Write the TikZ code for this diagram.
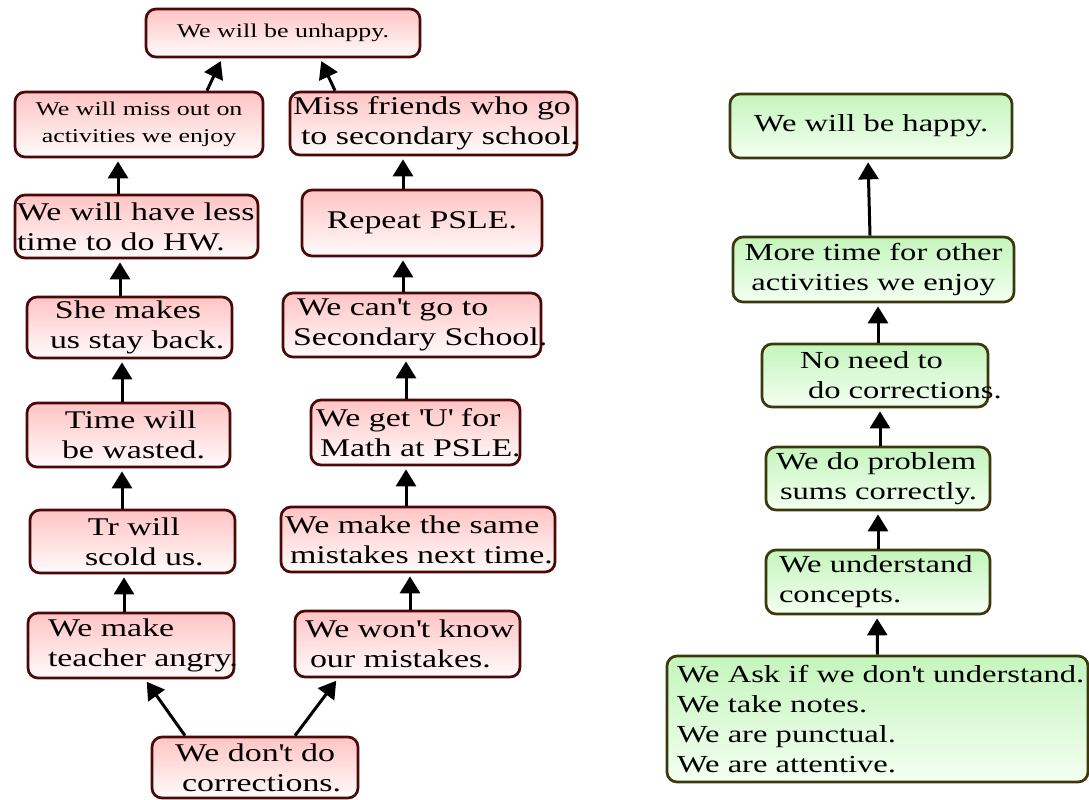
\documentclass[tikz,border=0pt]{standalone}
\usepackage{fontspec}
\setmainfont{Liberation Serif}[FakeStretch=1.33]
\usetikzlibrary{arrows.meta}
\definecolor{redtop}{HTML}{FFC4C4}
\definecolor{redbot}{HTML}{FFFBFB}
\definecolor{redline}{HTML}{4A0808}
\definecolor{greentop}{HTML}{C4F5BC}
\definecolor{greenbot}{HTML}{F4FFF2}
\definecolor{greenline}{HTML}{3A380C}
\newcommand\tline[2]{\hspace*{#1pt}\makebox[0pt][l]{#2}}
\newcommand\sq{\textquotesingle}
\begin{document}
\begin{tikzpicture}[x=1pt,y=-1pt,
  box/.style={line width=2.7pt, rounded corners=10pt, inner sep=0pt, align=left},
  rbox/.style={box, draw=redline, top color=redtop, bottom color=redbot, font=\fontsize{25.5}{30}\selectfont},
  gbox/.style={box, draw=greenline, top color=greentop, bottom color=greenbot, font=\fontsize{24.5}{30}\selectfont},
  smallfont/.style={font=\fontsize{19.5}{27}\selectfont},
  arr/.style={line width=3pt, -{Triangle[length=17pt,width=20pt]}, shorten >=3pt}
]
\useasboundingbox (0,0) rectangle (1089,800);

% left chain (red)
\node[rbox, smallfont, align=center, text width=274pt, minimum height=48pt] (L1) at (283,33) {We will be unhappy.};
\node[rbox, smallfont, align=center, text width=248pt, minimum height=65pt] (L2) at (139,124.5) {We will miss out on\\activities we enjoy};
\node[rbox, text width=287pt, minimum height=63pt] (L3) at (433.5,123.5) {\tline{3}{Miss friends who go}\\\tline{11}{to secondary school.}};
\node[rbox, text width=243pt, minimum height=63pt] (L4) at (136.5,226.5) {\tline{2}{We will have less}\\\tline{2}{time to do HW.}};
\node[rbox, align=center, text width=240pt, minimum height=66pt] (L5) at (422,223) {Repeat PSLE.};
\node[rbox, text width=205pt, minimum height=61pt] (L6) at (129.5,327.5) {\tline{28}{She makes}\\\tline{23}{us stay back.}};
\node[rbox, text width=258pt, minimum height=64pt] (L7) at (412,325) {\tline{14}{We can\sq t go to}\\\tline{10}{Secondary School.}};
\node[rbox, text width=203pt, minimum height=64pt] (L8) at (128.5,435) {\tline{38}{Time will}\\\tline{35}{be wasted.}};
\node[rbox, text width=209pt, minimum height=65pt] (L9) at (415.5,432.5) {\tline{5}{We get \sq U\sq{} for}\\\tline{9}{Math at PSLE.}};
\node[rbox, text width=205pt, minimum height=63pt] (L10) at (132.5,541.5) {\tline{58}{Tr will}\\\tline{55}{scold us.}};
\node[rbox, text width=274pt, minimum height=65pt] (L11) at (418,539.5) {\tline{4}{We make the same}\\\tline{9}{mistakes next time.}};
\node[rbox, text width=206pt, minimum height=65pt] (L12) at (131,645.5) {\tline{20}{We make}\\\tline{20}{teacher angry.}};
\node[rbox, text width=225pt, minimum height=66pt] (L13) at (407.5,644) {\tline{10}{We won\sq t know}\\\tline{15}{our mistakes.}};
\node[rbox, text width=206pt, minimum height=61pt] (L14) at (255,767.5) {\tline{23}{We don\sq t do}\\\tline{30}{corrections.}};

% right chain (green)
\node[gbox, align=center, text width=282pt, minimum height=64pt] (G1) at (871,126) {We will be happy.};
\node[gbox, align=center, text width=281pt, minimum height=65pt] (G2) at (873.5,269.5) {More time for other\\activities we enjoy};
\node[gbox, text width=226pt, minimum height=63pt] (G3) at (875,375.5) {\tline{38}{No need to}\\\tline{46}{do corrections.}};
\node[gbox, text width=224pt, minimum height=63pt] (G4) at (878,478.5) {\tline{10}{We do problem}\\\tline{14}{sums correctly.}};
\node[gbox, text width=224pt, minimum height=64pt] (G5) at (878,582) {\tline{13}{We understand}\\\tline{13}{concepts.}};
\node[gbox, text width=421pt, minimum height=126pt] (G6) at (877.5,719) {\tline{10}{We Ask if we don\sq t understand.}\\\tline{10}{We take notes.}\\\tline{10}{We are punctual.}\\\tline{10}{We are attentive.}};

% left connectors
\draw[arr] ([xshift=68pt]L2.north) -- ([xshift=-61pt]L1.south);
\draw[arr] ([xshift=-98.5pt]L3.north) -- ([xshift=37pt]L1.south);
\draw[arr] ([xshift=-18.5pt]L4.north) -- ([xshift=-21pt]L2.south);
\draw[arr] ([xshift=-9.5pt]L6.north) -- ([xshift=-16.5pt]L4.south);
\draw[arr] ([xshift=-6.5pt]L8.north) -- ([xshift=-7.5pt]L6.south);
\draw[arr] ([xshift=-10.5pt]L10.north) -- ([xshift=-6.5pt]L8.south);
\draw[arr] ([xshift=-7pt]L12.north) -- ([xshift=-8.5pt]L10.south);
\draw[arr] ([xshift=-70pt]L14.north) -- ([xshift=14pt]L12.south);
\draw[arr] ([xshift=40pt]L14.north) -- ([xshift=-69.5pt]L13.south);
\draw[arr] ([xshift=-19pt]L5.north) -- ([xshift=-30.5pt]L3.south);
\draw[arr] ([xshift=-9pt]L7.north) -- ([xshift=-19pt]L5.south);
\draw[arr] ([xshift=-9.5pt]L9.north) -- ([xshift=-6pt]L7.south);
\draw[arr] ([xshift=-12pt]L11.north) -- ([xshift=-9.5pt]L9.south);
\draw[arr] ([xshift=2.5pt]L13.north) -- ([xshift=-8pt]L11.south);

% right connectors
\draw[arr] ([xshift=-3.5pt]G2.north) -- ([xshift=-3pt]G1.south);
\draw[arr] ([xshift=3pt]G3.north) -- ([xshift=4.5pt]G2.south);
\draw[arr] ([xshift=2pt]G4.north) -- ([xshift=5pt]G3.south);
\draw[arr] (G5.north) -- (G4.south);
\draw[arr] (G6.north) -- ([xshift=-1pt]G5.south);
\end{tikzpicture}
\end{document}
